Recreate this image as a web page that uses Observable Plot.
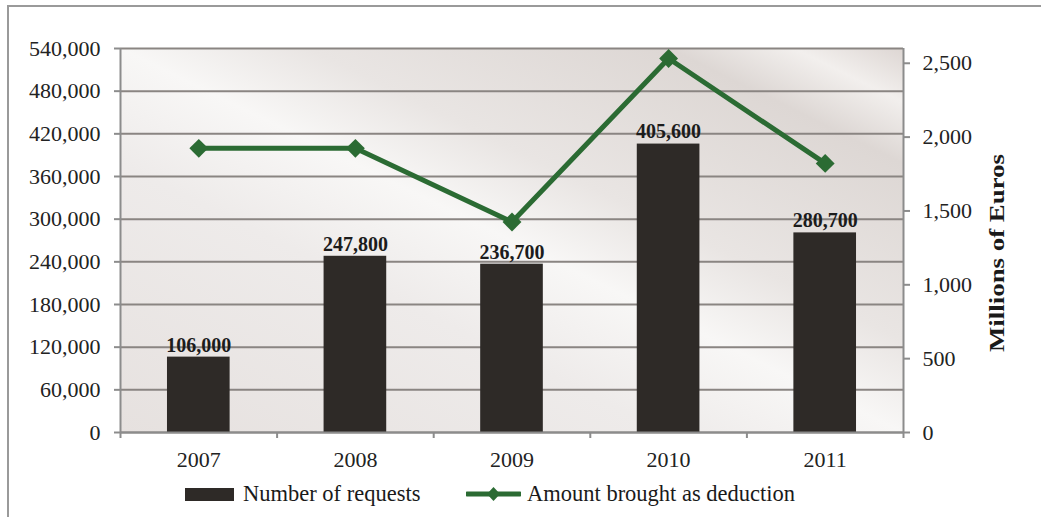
<!DOCTYPE html>
<html>
<head>
<meta charset="utf-8">
<script src="https://cdn.jsdelivr.net/npm/d3@7"></script>
<script src="https://cdn.jsdelivr.net/npm/@observablehq/plot@0.6"></script>
<style>
  html, body { margin: 0; padding: 0; background: #fff; }
  #wrap { position: relative; width: 1041px; height: 517px; overflow: hidden; font-family: "Liberation Serif", "Times New Roman", serif; }
  #frame { position: absolute; left: 7px; top: 5px; width: 1100px; height: 600px; border-top: 2px solid #9a9a9a; border-left: 2px solid #9a9a9a; }
  #chart { position: absolute; left: 0; top: 0; }
  #legend { position: absolute; top: 481px; left: 0; width: 1041px; height: 26px; font-size: 22.5px; color: #1a1a1a; }
  .lg { position: absolute; top: 0; display: flex; align-items: center; height: 26px; }
</style>
</head>
<body>
<div id="wrap">
  <div id="frame"></div>
  <div id="chart"></div>
  <div id="legend">
    <div class="lg" style="left:185px"><svg width="49" height="13" style="margin-right:9px"><rect width="49" height="13" fill="#2e2a27"/></svg><span>Number of requests</span></div>
    <div class="lg" style="left:466px"><svg width="55" height="16" style="margin-right:6px"><line x1="1" y1="8" x2="54" y2="8" stroke="#2b6b33" stroke-width="5" stroke-linecap="round"/><path d="M27.5 1 L34 8 L27.5 15 L21 8 Z" fill="#2b6b33"/></svg><span>Amount brought as deduction</span></div>
  </div>
</div>
<script>
const years = ["2007", "2008", "2009", "2010", "2011"];
const requests = [106000, 247800, 236700, 405600, 280700];
const deduction = [1924, 1924, 1425, 2532, 1822];
const leftTicks = [0, 60000, 120000, 180000, 240000, 300000, 360000, 420000, 480000, 540000];
const rightTicks = [0, 500, 1000, 1500, 2000, 2500];
const leftMax = 540000;
const rightMax = 2600;
const k = leftMax / rightMax;

const fmt = d3.format(",");
const bars = years.map((y, i) => ({year: y, i, value: requests[i]}));
const line = years.map((y, i) => ({year: y, i, value: deduction[i] * k}));

const gridColor = "#8a8582";
const axisColor = "#8c8c8c";

const plot = Plot.plot({
  width: 1041,
  height: 517,
  marginTop: 48,
  marginBottom: 85,
  marginLeft: 120,
  marginRight: 138,
  style: {fontFamily: "'Liberation Serif', 'Times New Roman', serif", fontSize: "22px", color: "#222", background: "transparent"},
  x: {domain: [0, years.length], axis: null},
  y: {domain: [0, leftMax], axis: null},
  marks: [
    Plot.frame({fill: "url(#bgGrad)", stroke: "none"}),
    Plot.ruleY(leftTicks, {stroke: gridColor, strokeWidth: 2}),
    Plot.rectY(bars, {x1: d => d.i + 0.3, x2: d => d.i + 0.7, y: "value", fill: "#2e2a27"}),
    Plot.text(bars, {x: d => d.i + 0.5, y: "value", text: d => fmt(d.value), dy: -12, fontWeight: "bold", fontSize: 20, fill: "#1c1c1c", lineAnchor: "middle"}),
    Plot.line(line, {x: d => d.i + 0.5, y: "value", stroke: "#2b6b33", strokeWidth: 5}),
    Plot.dot(line, {x: d => d.i + 0.5, y: "value", symbol: "diamond2", r: 8.5, fill: "#2b6b33", stroke: "none"}),
    Plot.ruleX([0], {stroke: axisColor, strokeWidth: 2}),
    Plot.ruleX([years.length], {stroke: axisColor, strokeWidth: 2}),
    Plot.ruleY([0], {stroke: axisColor, strokeWidth: 2}),
    Plot.axisY({ticks: leftTicks, tickFormat: fmt, anchor: "left", tickSize: 6, tickPadding: 14, stroke: axisColor, strokeWidth: 2, fill: "#222", label: null, fontSize: 22}),
    Plot.axisY({ticks: rightTicks.map(t => t * k), tickFormat: d => fmt(Math.round(d / k)), anchor: "right", tickSize: 6, tickPadding: 13, stroke: axisColor, strokeWidth: 2, fill: "#222", label: null, fontSize: 22}),
    Plot.axisX({ticks: d3.range(0, years.length + 1), tickFormat: () => "", anchor: "bottom", tickSize: 6, stroke: axisColor, strokeWidth: 2, label: null}),
    Plot.axisX({ticks: years.map((y, i) => i + 0.5), tickFormat: d => years[Math.floor(d)], anchor: "bottom", tickSize: 0, tickPadding: 19, fill: "#222", label: null, fontSize: 22})
  ]
});

// gradient background definition
const ns = "http://www.w3.org/2000/svg";
const defs = document.createElementNS(ns, "defs");
defs.innerHTML = `
  <linearGradient id="bgGrad" x1="0" y1="1" x2="1" y2="0">
    <stop offset="0" stop-color="#e6e1df"/>
    <stop offset="0.35" stop-color="#eeebea"/>
    <stop offset="0.5" stop-color="#f8f7f6"/>
    <stop offset="0.62" stop-color="#e9e5e3"/>
    <stop offset="0.85" stop-color="#ddd7d4"/>
    <stop offset="0.93" stop-color="#f2efed"/>
    <stop offset="1" stop-color="#ddd6d3"/>
  </linearGradient>`;
plot.insertBefore(defs, plot.firstChild);

// right axis title
const t = document.createElementNS(ns, "text");
t.setAttribute("transform", "translate(1004,253) rotate(-90)");
t.setAttribute("text-anchor", "middle");
t.setAttribute("font-size", "22");
t.setAttribute("font-weight", "bold");
t.setAttribute("fill", "#1a1a1a");
t.setAttribute("textLength", "198");
t.setAttribute("lengthAdjust", "spacingAndGlyphs");
t.textContent = "Millions of Euros";
plot.appendChild(t);

document.getElementById("chart").appendChild(plot);
</script>
</body>
</html>
